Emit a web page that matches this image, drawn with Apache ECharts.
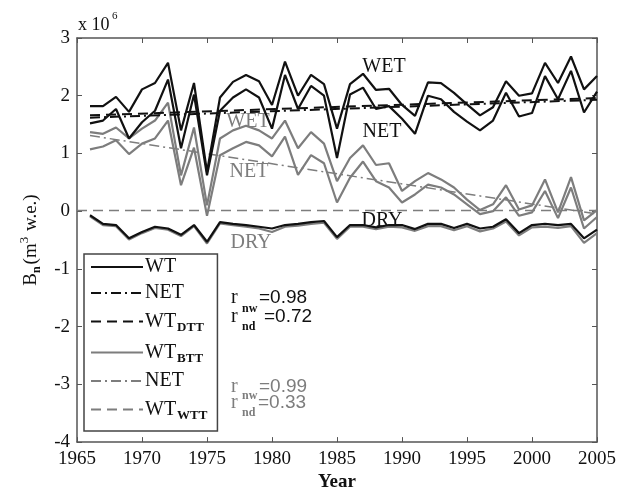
<!DOCTYPE html>
<html>
<head>
<meta charset="utf-8">
<script src="https://cdn.jsdelivr.net/npm/echarts@6/dist/echarts.min.js"></script>
<style>
  html, body { margin: 0; padding: 0; background: #fff; }
  #chart { width: 630px; height: 497px; }
</style>
</head>
<body>
<div id="chart"></div>
<script>
// net balance, x 10^6 m3 w.e.
const years = [1966, 1967, 1968, 1969, 1970, 1971, 1972, 1973, 1974, 1975,
  1976, 1977, 1978, 1979, 1980, 1981, 1982, 1983, 1984, 1985,
  1986, 1987, 1988, 1989, 1990, 1991, 1992, 1993, 1994, 1995,
  1996, 1997, 1998, 1999, 2000, 2001, 2002, 2003, 2004, 2005]

// black (DTT)
const wetBlack = [1.82, 1.82, 1.98, 1.72, 2.11, 2.22, 2.57, 1.40, 2.22, 0.68,
  1.97, 2.24, 2.36, 2.25, 1.84, 2.59, 2.00, 2.36, 2.20, 1.43,
  2.20, 2.38, 2.10, 2.12, 1.84, 1.65, 2.23, 2.22, 2.05, 1.85,
  1.66, 1.80, 2.25, 2.00, 2.04, 2.57, 2.22, 2.68, 2.11, 2.34]
const netBlack = [1.52, 1.57, 1.77, 1.26, 1.54, 1.74, 2.28, 1.09, 2.02, 0.62,
  1.74, 1.97, 2.11, 1.97, 1.43, 2.36, 1.77, 2.17, 2.00, 0.92,
  2.02, 2.14, 1.77, 1.82, 1.60, 1.34, 2.00, 1.94, 1.72, 1.55,
  1.40, 1.57, 2.05, 1.64, 1.70, 2.34, 1.94, 2.43, 1.71, 2.07]
const dryBlack = [-0.07, -0.22, -0.24, -0.47, -0.36, -0.27, -0.30, -0.41, -0.24, -0.53,
  -0.19, -0.22, -0.24, -0.27, -0.30, -0.24, -0.22, -0.19, -0.17, -0.45,
  -0.24, -0.24, -0.28, -0.24, -0.24, -0.31, -0.22, -0.22, -0.29, -0.22,
  -0.30, -0.27, -0.14, -0.38, -0.24, -0.22, -0.24, -0.22, -0.47, -0.32]

// gray (BTT)
const wetGray = [1.37, 1.34, 1.45, 1.26, 1.43, 1.57, 1.88, 0.62, 1.45, 0.10,
  1.26, 1.40, 1.48, 1.40, 1.26, 1.57, 1.09, 1.37, 1.17, 0.52,
  0.92, 1.14, 0.80, 0.83, 0.35, 0.52, 0.66, 0.55, 0.41, 0.20,
  0.02, 0.12, 0.45, 0.03, 0.10, 0.55, -0.02, 0.59, -0.16, 0.02]
const netGray = [1.07, 1.12, 1.23, 0.99, 1.17, 1.26, 1.57, 0.45, 1.10, -0.08,
  0.97, 1.09, 1.20, 1.14, 0.95, 1.29, 0.63, 0.97, 0.83, 0.15,
  0.58, 0.86, 0.52, 0.41, 0.15, 0.29, 0.46, 0.41, 0.29, 0.12,
  -0.05, 0.00, 0.24, -0.08, -0.02, 0.35, -0.12, 0.41, -0.30, -0.10]
const dryGray = [-0.09, -0.24, -0.26, -0.49, -0.38, -0.29, -0.32, -0.43, -0.26, -0.56,
  -0.21, -0.24, -0.27, -0.30, -0.36, -0.27, -0.25, -0.22, -0.20, -0.48,
  -0.27, -0.27, -0.31, -0.27, -0.28, -0.34, -0.26, -0.26, -0.33, -0.26,
  -0.35, -0.30, -0.18, -0.42, -0.28, -0.27, -0.29, -0.26, -0.55, -0.38]

// straight lines: [year, value] end points
const netTrendBlack = [[1966, 1.62], [2005, 1.93]]
const wtDtt = [[1966, 1.66], [2005, 1.96]]
const netTrendGray = [[1966, 1.31], [2005, -0.05]]
const wtWtt = [[1965, 0.01], [2005, 0.01]]

const serif = '"Liberation Serif", "DejaVu Serif", serif'
const sans = '"Liberation Sans", Arial, sans-serif'
const black = '#111'
const gray = '#7d7d7d'
const dashDot = [10, 4, 2, 4]
const dashed = [10, 6]

const pairs = (vals) => years.map((y, i) => [y, vals[i]])

const lineSeries = (name, data, color, type, width) => ({
  name,
  type: 'line',
  data,
  symbol: 'none',
  animation: false,
  lineStyle: { color, width, type },
  itemStyle: { color }
})

const legendNames = {
  WT: '{t|WT}',
  NET1: '{t|NET}',
  WT_DTT: '{t|WT}{s|DTT}',
  WT_BTT: '{t|WT}{s|BTT}',
  NET2: '{t|NET}',
  WT_WTT: '{t|WT}{s|WTT}'
}

const chart = echarts.init(document.getElementById('chart'))

const label = (text, x, y, color) => ({
  type: 'text', x, y,
  style: { text, fill: color, font: '20px ' + serif, align: 'center', verticalAlign: 'middle' }
})
const txt = (text, x, y, color, font) => ({
  type: 'text', x, y,
  style: { text, fill: color, font, align: 'left', verticalAlign: 'middle' }
})

const frameAxis = {
  axisLine: { show: true, onZero: false, lineStyle: { color: '#555', width: 1.5 } },
  axisTick: { inside: true, length: 5, lineStyle: { color: '#555' } },
  splitLine: { show: false }
}

const option = {
  backgroundColor: '#fff',
  animation: false,
  grid: { left: 77, right: 33, top: 38, bottom: 48 },
  xAxis: [
    {
      type: 'value', min: 1965, max: 2005, interval: 5,
      ...frameAxis,
      axisLabel: { fontFamily: serif, fontSize: 19, color: black, margin: 7, formatter: (v) => String(v) },
      name: 'Year', nameLocation: 'middle', nameGap: 27,
      nameTextStyle: { fontFamily: serif, fontSize: 19, fontWeight: 'bold', color: black }
    },
    {
      type: 'value', position: 'top', min: 1965, max: 2005, interval: 5,
      ...frameAxis,
      axisLabel: { show: false }
    }
  ],
  yAxis: [
    {
      type: 'value', min: -4, max: 3, interval: 1,
      ...frameAxis,
      axisLabel: { fontFamily: serif, fontSize: 19, color: black, margin: 7 },
      name: '{b|B}{sub|n}{b|(m}{sup|3}{b| w.e.)}',
      nameLocation: 'middle', nameGap: 32, nameRotate: 90,
      nameTextStyle: {
        color: black,
        rich: {
          b: { fontFamily: serif, fontSize: 19, color: black, lineHeight: 22 },
          sub: { fontFamily: serif, fontSize: 12, fontWeight: 'bold', color: black, lineHeight: 12, padding: [12, 2, 0, 0] },
          sup: { fontFamily: serif, fontSize: 13, color: black, lineHeight: 12, padding: [0, 1, 12, 0] }
        }
      }
    },
    {
      type: 'value', position: 'right', min: -4, max: 3, interval: 1,
      ...frameAxis,
      axisLabel: { show: false }
    }
  ],
  legend: {
    orient: 'vertical',
    left: 84, top: 254,
    data: ['WT', 'NET1', 'WT_DTT', 'WT_BTT', 'NET2', 'WT_WTT'],
    itemWidth: 52, itemHeight: 14, itemGap: 6,
    padding: [3, 10, 9, 6],
    borderColor: '#444', borderWidth: 1.5,
    backgroundColor: '#fff',
    itemStyle: { opacity: 0 },
    formatter: (name) => legendNames[name],
    textStyle: {
      color: black,
      padding: [0, 0, 0, -3],
      rich: {
        t: { fontFamily: serif, fontSize: 20, color: black, lineHeight: 24 },
        s: { fontFamily: serif, fontSize: 13, fontWeight: 'bold', color: black, lineHeight: 12, padding: [12, 0, 0, 1] }
      }
    }
  },
  graphic: [
    txt('x 10', 78, 25, black, '18px ' + serif),
    txt('6', 112, 16, black, '11px ' + serif),
    label('WET', 384, 67, black),
    label('NET', 382, 132, black),
    label('DRY', 382, 221, black),
    label('WET', 248, 122, gray),
    label('NET', 249, 172, gray),
    label('DRY', 251, 243, gray),
    // correlation notes
    txt('r', 231, 298, black, '20px ' + serif),
    txt('=0.98', 259, 298, black, '19px ' + sans),
    txt('r', 231, 317, black, '20px ' + serif),
    txt('nw', 242, 309, black, 'bold 12px ' + serif),
    txt('=0.72', 264, 317, black, '19px ' + sans),
    txt('nd', 242, 327, black, 'bold 12px ' + serif),
    txt('r', 231, 387, gray, '20px ' + serif),
    txt('=0.99', 259, 387, gray, '19px ' + sans),
    txt('r', 231, 403, gray, '20px ' + serif),
    txt('nw', 242, 396, gray, 'bold 12px ' + serif),
    txt('=0.33', 258, 403, gray, '19px ' + sans),
    txt('nd', 242, 413, gray, 'bold 12px ' + serif)
  ],
  series: [
    lineSeries('WT_WTT', wtWtt, gray, dashed, 1.5),
    lineSeries('NET2', netTrendGray, gray, dashDot, 1.5),
    lineSeries('WT_BTT', pairs(wetGray), gray, 'solid', 2.2),
    lineSeries('WT_BTT', pairs(netGray), gray, 'solid', 2.2),
    lineSeries('WT_BTT', pairs(dryGray), gray, 'solid', 2.2),
    lineSeries('NET1', netTrendBlack, black, dashDot, 2),
    lineSeries('WT_DTT', wtDtt, black, dashed, 2),
    lineSeries('WT', pairs(wetBlack), black, 'solid', 2.2),
    lineSeries('WT', pairs(netBlack), black, 'solid', 2.2),
    lineSeries('WT', pairs(dryBlack), black, 'solid', 2.2)
  ]
}

chart.setOption(option)
window.addEventListener('resize', () => chart.resize())
</script>
</body>
</html>
